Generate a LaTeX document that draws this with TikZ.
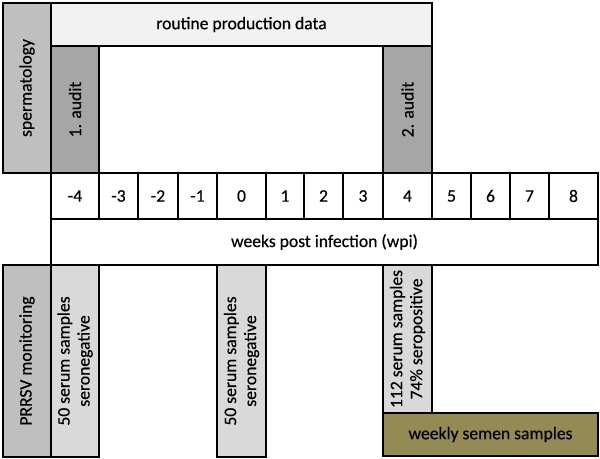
\documentclass[tikz,border=0pt]{standalone}
\usepackage{fontspec}
\setmainfont{Carlito}[FakeBold=0.5]

\definecolor{prodgray}{HTML}{F2F2F2}
\definecolor{headgray}{HTML}{BFBFBF}
\definecolor{auditgray}{HTML}{A6A6A6}
\definecolor{serumgray}{HTML}{D9D9D9}
\definecolor{semenolive}{HTML}{948A54}

\begin{document}
\begin{tikzpicture}[x=0.75pt, y=-0.75pt,
  frame/.style={draw=black, line width=2.2pt},
  lbl/.style={font=\fontsize{13.2}{15}\selectfont, align=center, inner sep=0pt},
  vlbl/.style={lbl, rotate=90}]

\useasboundingbox (0,0) rectangle (600,459);

% top part: production data and audits
\filldraw [frame, fill=prodgray] (51, 3) rectangle (432, 46);
\node [lbl] (prod) at (241.5, 24.5) {routine production data};

\filldraw [frame, fill=headgray] (3, 3) rectangle (51, 173);
\node [vlbl] (sperm) at (27, 88) {spermatology};

\filldraw [frame, fill=auditgray] (51, 46) rectangle (99, 173);
\node [vlbl] (audit1) at (75, 109.5) {1. audit};

\filldraw [frame, fill=auditgray] (383, 46) rectangle (432, 173);
\node [vlbl] (audit2) at (407.5, 109.5) {2. audit};

% weeks
\foreach \l/\r/\w [count=\i] in {51/99/-4, 99/138/-3, 138/178/-2, 178/217/-1,
    217/266/0, 266/304/1, 304/343/2, 343/383/3, 383/432/4,
    432/471/5, 471/510/6, 510/549/7, 549/598/8} {
  \draw [frame] (\l, 173) rectangle (\r, 219);
  \node [lbl] (week\i) at ({(\l+\r)/2}, 196) {\w};
}

\draw [frame] (51, 219) rectangle (598, 265);
\node [lbl] (wpi) at (324.5, 242) {weeks post infection (wpi)};

% bottom part: monitoring
\filldraw [frame, fill=headgray] (3, 265) rectangle (51, 457);
\node [vlbl] (prrsv) at (27, 361) {PRRSV monitoring};

\filldraw [frame, fill=serumgray] (51, 265) rectangle (99, 457);
\node [vlbl] (serum1) at (75, 361) {50 serum samples\\seronegative};

\filldraw [frame, fill=serumgray] (217, 265) rectangle (266, 457);
\node [vlbl] (serum2) at (241.5, 361) {50 serum samples\\seronegative};

\filldraw [frame, fill=serumgray] (383, 265) rectangle (432, 413);
\node [vlbl] (serum3) at (407.5, 339) {112 serum samples\\74\% seropositive};

\filldraw [frame, fill=semenolive] (383, 413) rectangle (598, 456);
\node [lbl] (semen) at (490.5, 434.5) {weekly semen samples};

\end{tikzpicture}
\end{document}
